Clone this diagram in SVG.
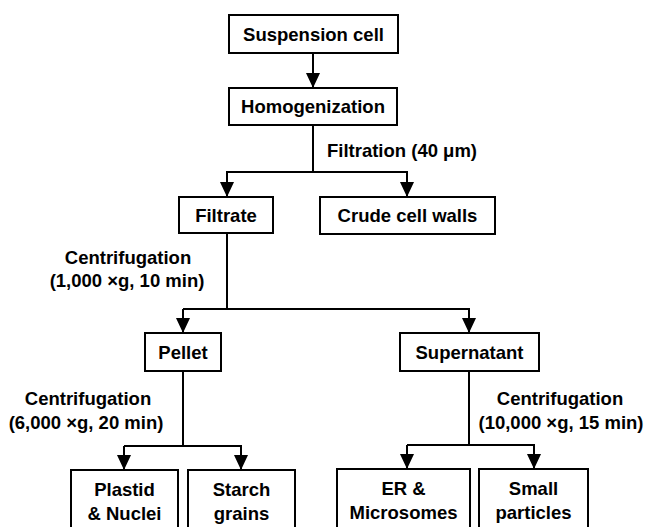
<svg xmlns="http://www.w3.org/2000/svg" width="648" height="527" viewBox="0 0 648 527">
<defs>
<marker id="arr" markerUnits="userSpaceOnUse" markerWidth="15" markerHeight="14" refX="15" refY="7" orient="auto">
<path d="M0,0 L15,7 L0,14 Z" fill="#000"/>
</marker>
<style>
.box{fill:#fff;stroke:#000;stroke-width:2}
.t{font-family:"Liberation Sans",Arial,sans-serif;font-weight:bold;font-size:18.5px;fill:#000;text-anchor:middle}
.c{fill:none;stroke:#000;stroke-width:2}
</style>
</defs>
<rect width="648" height="527" fill="#fff"/>
<g id="connectors">
<line class="c" x1="313" y1="53" x2="313" y2="88" marker-end="url(#arr)"/>
<polyline class="c" points="313,125 313,172"/>
<polyline class="c" points="227,197 227,172 407,172 407,197" marker-end="url(#arr)"/>
<line class="c" x1="227" y1="172" x2="227" y2="197" marker-end="url(#arr)"/>
<polyline class="c" points="227,233 227,309"/>
<polyline class="c" points="183,309 469,309 469,333" marker-end="url(#arr)"/>
<line class="c" x1="183" y1="309" x2="183" y2="333" marker-end="url(#arr)"/>
<polyline class="c" points="183,371 183,446"/>
<polyline class="c" points="124,446 241,446 241,470" marker-end="url(#arr)"/>
<line class="c" x1="124" y1="446" x2="124" y2="470" marker-end="url(#arr)"/>
<polyline class="c" points="469,371 469,445"/>
<polyline class="c" points="407,445 534,445 534,469" marker-end="url(#arr)"/>
<line class="c" x1="407" y1="445" x2="407" y2="469" marker-end="url(#arr)"/>
</g>
<g id="labels">
<text class="t" x="402" y="157">Filtration (40 μm)</text>
<text class="t" x="128" y="264">Centrifugation</text>
<text class="t" x="127" y="287">(1,000 ×g, 10 min)</text>
<text class="t" x="88" y="405">Centrifugation</text>
<text class="t" x="86" y="429">(6,000 ×g, 20 min)</text>
<text class="t" x="560" y="405">Centrifugation</text>
<text class="t" x="561" y="429">(10,000 ×g, 15 min)</text>
</g>
<g id="suspension">
<rect class="box" x="229" y="15" width="169" height="38"/>
<text class="t" x="313.5" y="41">Suspension cell</text>
</g>
<g id="homogenization">
<rect class="box" x="229" y="88" width="168" height="37"/>
<text class="t" x="313" y="113">Homogenization</text>
</g>
<g id="filtrate">
<rect class="box" x="179" y="197" width="94" height="36"/>
<text class="t" x="226" y="222">Filtrate</text>
</g>
<g id="crude">
<rect class="box" x="320" y="197" width="175" height="37"/>
<text class="t" x="407.5" y="222">Crude cell walls</text>
</g>
<g id="pellet">
<rect class="box" x="145" y="333" width="76" height="38"/>
<text class="t" x="183" y="359">Pellet</text>
</g>
<g id="supernatant">
<rect class="box" x="400" y="333" width="139" height="38"/>
<text class="t" x="469.5" y="359">Supernatant</text>
</g>
<g id="plastid">
<rect class="box" x="71" y="470" width="107" height="70"/>
<text class="t" x="124.5" y="496">Plastid</text>
<text class="t" x="124.5" y="520">&amp; Nuclei</text>
</g>
<g id="starch">
<rect class="box" x="188" y="470" width="107" height="70"/>
<text class="t" x="241.5" y="496">Starch</text>
<text class="t" x="241.5" y="520">grains</text>
</g>
<g id="er">
<rect class="box" x="337" y="469" width="133" height="70"/>
<text class="t" x="403.5" y="495">ER &amp;</text>
<text class="t" x="403.5" y="519">Microsomes</text>
</g>
<g id="small">
<rect class="box" x="479" y="469" width="109" height="70"/>
<text class="t" x="533.5" y="495">Small</text>
<text class="t" x="533.5" y="519">particles</text>
</g>
</svg>
